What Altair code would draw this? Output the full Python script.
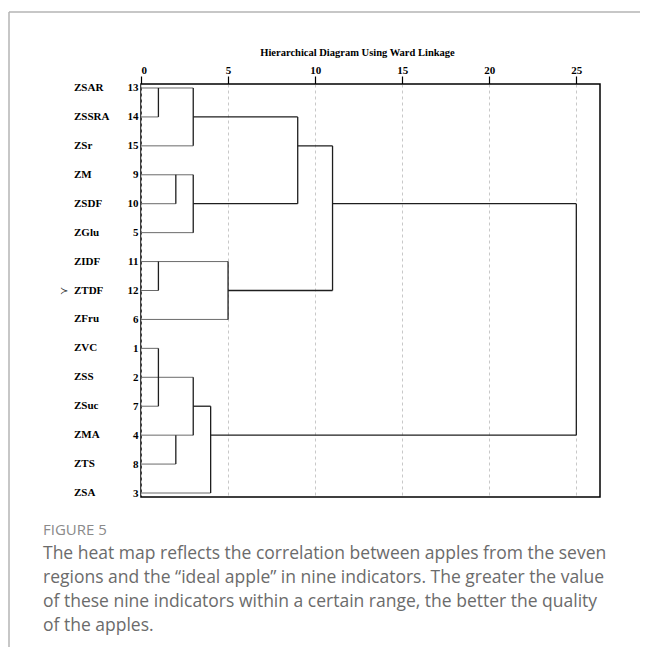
import altair as alt
import pandas as pd

# ---- data ----
leaf_names = ["ZSAR", "ZSSRA", "ZSr", "ZM", "ZSDF", "ZGlu", "ZIDF", "ZTDF",
              "ZFru", "ZVC", "ZSS", "ZSuc", "ZMA", "ZTS", "ZSA"]
leaf_numbers = ["13", "14", "15", "9", "10", "5", "11", "12", "6", "1", "2",
                "7", "4", "8", "3"]
leaf_end = [3, 1, 3, 3, 2, 3, 5, 1, 5, 1, 3, 1, 3, 2, 4]

join_height = [1, 3, 2, 3, 9, 11, 1, 5, 1, 2, 3, 4, 25]
join_top = [0, 0, 3, 3, 1, 2, 6, 6, 9, 12, 10, 11, 4]
join_bottom = [1, 2, 4, 5, 4, 7, 7, 8, 11, 13, 12, 14, 12]

link_row = [1, 4, 2, 4, 7, 11, 12]
link_from = [3, 3, 9, 11, 5, 3, 4]
link_to = [9, 9, 11, 25, 11, 4, 25]

axis_ticks = [0, 5, 10, 15, 20, 25]
marked_row = 7

title_text = "Hierarchical Diagram Using Ward Linkage"
figure_label = "FIGURE 5"
caption_lines = [
    "The heat map reflects the correlation between apples from the seven",
    "regions and the \u201cideal apple\u201d in nine indicators. The greater the value",
    "of these nine indicators within a certain range, the better the quality",
    "of the apples.",
]

# ---- tables ----
rows = list(range(len(leaf_names)))
leaf_df = pd.DataFrame({"row": rows, "x": [0] * len(rows), "x2": leaf_end,
                        "name": leaf_names, "num": leaf_numbers})
branch_df = pd.DataFrame({
    "x": join_height + link_from,
    "x2": join_height + link_to,
    "row": join_top + link_row,
    "row2": join_bottom + link_row,
})
mark_df = pd.DataFrame({"row": [marked_row], "sym": ["\u227b"]})
one = pd.DataFrame({"k": [0]})

xs = alt.Scale(domain=[0, 26.36], nice=False, zero=False)
ys = alt.Scale(domain=[-0.138, 14.138], reverse=True, nice=False, zero=False)

label_expr = "[" + ",".join("'%s'" % n for n in leaf_numbers) + "][datum.value]"

x_axis = alt.Axis(
    orient="top", values=axis_ticks, format="d", domain=False,
    tickSize=8, tickColor="black", tickWidth=1.2,
    labelFont="Liberation Serif", labelFontWeight="bold", labelFontSize=11,
    labelColor="black", labelPadding=1,
    grid=True, gridDash=[3, 3], gridColor="#c8c8c8", gridWidth=1,
    title=title_text, titleFont="Liberation Serif", titleFontWeight="bold",
    titleFontSize=10.5, titleColor="black", titlePadding=7,
    titleX=216, titleAlign="center",
)
y_axis = alt.Axis(
    values=rows, labelExpr=label_expr, domain=False, ticks=False, grid=False,
    labelFont="Liberation Serif", labelFontWeight="bold", labelFontSize=11,
    labelColor="black", labelPadding=3, title=None,
)

X = alt.X("x:Q", scale=xs, axis=x_axis, title=title_text)
Y = alt.Y("row:Q", scale=ys, axis=y_axis, title=None)

leaves = alt.Chart(leaf_df).mark_rule(color="#6a6a6a", strokeWidth=1).encode(
    x=X, x2="x2:Q", y=Y,
)

branches = alt.Chart(branch_df).mark_rule(color="#1e1e1e", strokeWidth=1.3).encode(
    x=X, x2="x2:Q", y=Y, y2="row2:Q",
)

names = alt.Chart(leaf_df).mark_text(
    align="left", baseline="middle", font="Liberation Serif",
    fontWeight="bold", fontSize=11, color="black",
).encode(
    x=alt.value(-67),
    y=Y,
    text="name:N",
)

marker = alt.Chart(mark_df).mark_text(
    align="left", baseline="middle", font="DejaVu Sans", fontSize=10, color="#333",
).encode(
    x=alt.value(-81),
    y=Y,
    text="sym:N",
)

border_left = alt.Chart(one).mark_rule(color="#b4b4b4", strokeWidth=1.5).encode(
    x=alt.value(-132), y=alt.value(-72), y2=alt.value(600))
border_top = alt.Chart(one).mark_rule(color="#b4b4b4", strokeWidth=1.5).encode(
    x=alt.value(-132), x2=alt.value(520), y=alt.value(-72))

fig_label = alt.Chart(one).mark_text(
    align="left", baseline="alphabetic", font="Open Sans", fontSize=15,
    color="#8a8a8a",
).encode(x=alt.value(-98), y=alt.value(451), text=alt.value(figure_label))

caption = alt.Chart(one).mark_text(
    align="left", baseline="alphabetic", font="Open Sans", fontSize=17.5,
    color="#6b6b6b", lineHeight=24,
).encode(x=alt.value(-98), y=alt.value(475), text=alt.value(caption_lines))

chart = alt.layer(
    border_left, border_top, leaves, branches, names, marker, fig_label, caption
).properties(
    width=459, height=413,
    autosize=alt.AutoSizeParams(type="none"),
    padding={"left": 133, "top": 76, "right": 40, "bottom": 150},
).configure(
    font="Liberation Serif"
).configure_view(
    stroke="black", strokeWidth=1.5
)

chart.save("out.html", embed_options={"renderer": "svg", "actions": False})
